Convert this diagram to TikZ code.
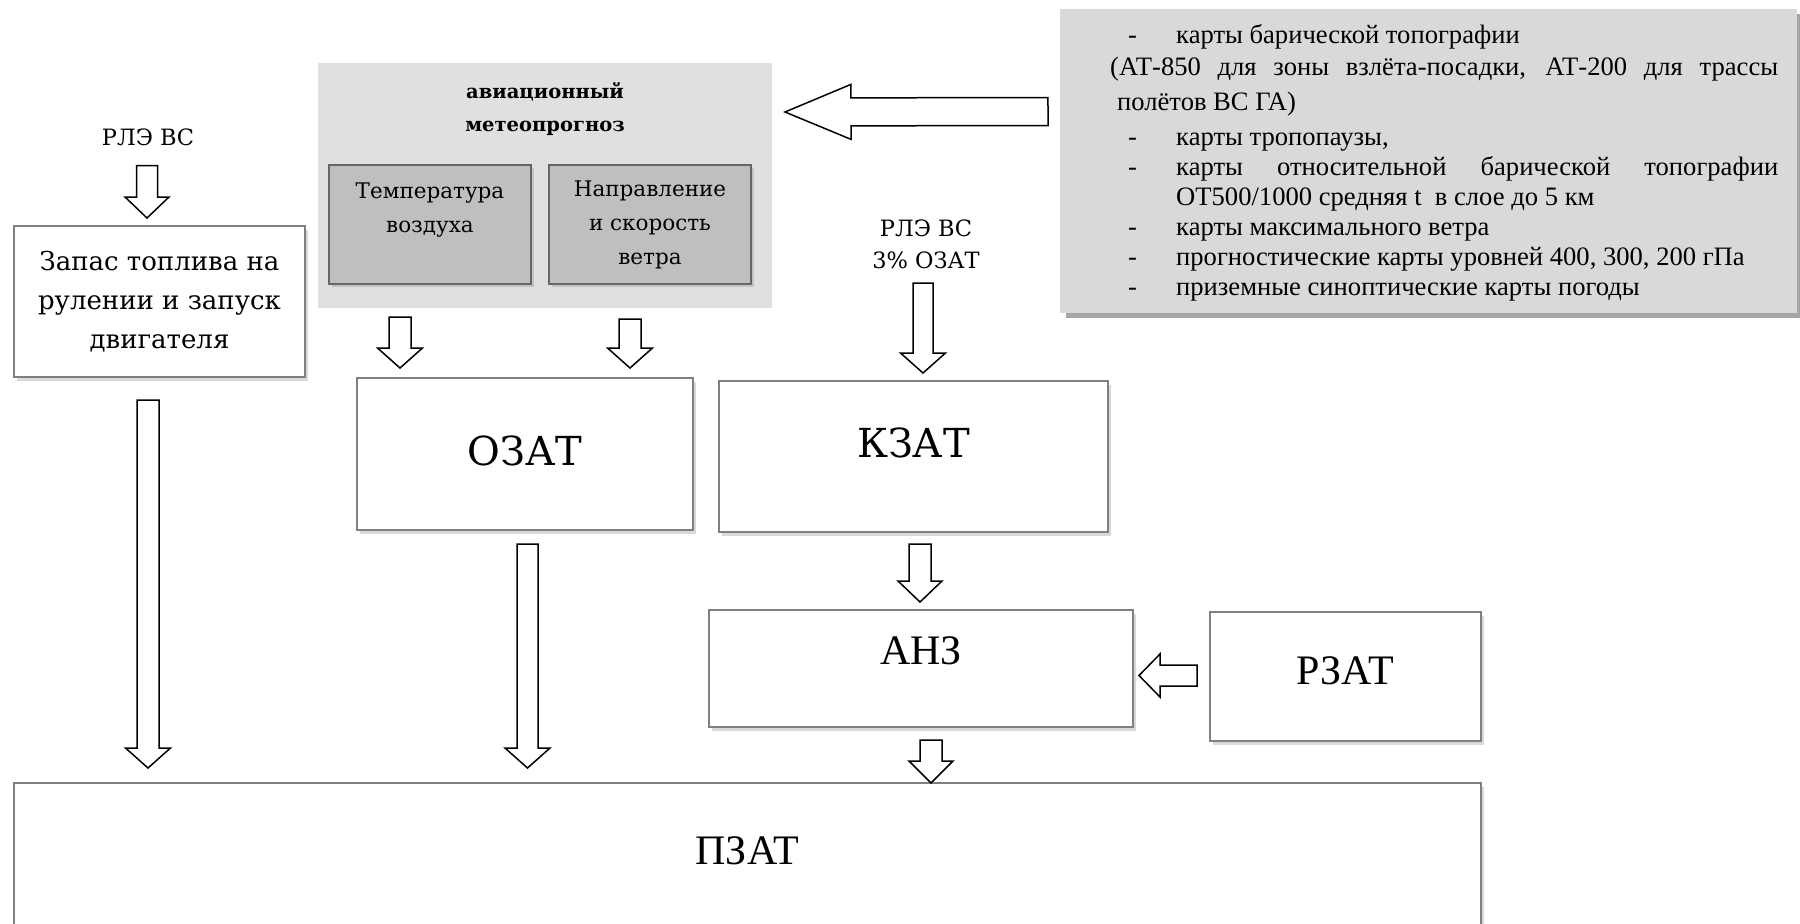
\documentclass[tikz,border=0pt]{standalone}
\usepackage{fontspec}
\setmainfont{Liberation Serif}
\newfontfamily\camb{DejaVu Serif}
\usetikzlibrary{calc,shadows}
\begin{document}
\begin{tikzpicture}[x=1pt,y=-1pt,
  box/.style={draw=black!50, line width=1.4pt, fill=white, rectangle, inner sep=0pt, outer sep=0pt,
    drop shadow={shadow xshift=3pt, shadow yshift=-4pt, opacity=0.3}},
  inbox/.style={draw=black!60, line width=1.4pt, fill=black!25, rectangle, inner sep=0pt, outer sep=0pt,
    align=center, font=\camb\fontsize{21.5}{34}\selectfont,
    drop shadow={shadow xshift=3pt, shadow yshift=-3pt, opacity=0.3},
    minimum width=202pt, minimum height=119pt},
  bigcamb/.style={font=\camb\fontsize{40}{48}\selectfont, text height=29pt},
  bigtimes/.style={font=\fontsize{42}{50}\selectfont, text height=28pt},
  lbl/.style={font=\camb\fontsize{22.5}{32}\selectfont, inner sep=0pt, align=center},
  info/.style={font=\fontsize{26.6}{30}\selectfont, inner sep=0pt, anchor=base west},
  barrow/.style n args={3}{draw=black, line width=1.5pt, fill=white, line join=miter,
    to path={let \p1=(\tikztostart), \p2=(\tikztotarget),
      \n1={veclen(\x2-\x1,\y2-\y1)}, \n2={scalar(atan2(\y2-\y1,\x2-\x1))},
      \n3={scalar(\n2+90)}, \n4={\n1-#3pt} in
      ($(\p1)+(\n3:#1pt)$) -- ($(\p1)+(\n2:\n4)+(\n3:#1pt)$)
      -- ($(\p1)+(\n2:\n4)+(\n3:#2pt)$) -- (\p2)
      -- ($(\p1)+(\n2:\n4)+(\n3:-#2pt)$) -- ($(\p1)+(\n2:\n4)+(\n3:-#1pt)$)
      -- ($(\p1)+(\n3:-#1pt)$) -- cycle}}
]
\useasboundingbox (0,0) rectangle (1800,924);

% info box (top right)
\node[fill=black!15, minimum width=737pt, minimum height=304pt, inner sep=0pt, outer sep=0pt,
  drop shadow={fill=black!35, opacity=1, shadow xshift=6pt, shadow yshift=-5pt}] (info) at (1428.5,161) {};
\node[info] (i1) at (1128,43) {\makebox[48pt][l]{-}карты барической топографии};
\node[info] (i2) at (1110,75) {\makebox[668pt][s]{(АТ-850 для зоны взлёта-посадки, АТ-200 для трассы}};
\node[info] (i3) at (1117,110) {полётов ВС ГА)};
\node[info] (i4) at (1128,145) {\makebox[48pt][l]{-}карты тропопаузы,};
\node[info] (i5) at (1128,175) {\makebox[48pt][l]{-}\makebox[602pt][s]{карты относительной барической топографии}};
\node[info] (i6) at (1176,205) {ОТ500/1000 средняя t\ \ в слое до 5 км};
\node[info] (i7) at (1128,235) {\makebox[48pt][l]{-}карты максимального ветра};
\node[info] (i8) at (1128,265) {\makebox[48pt][l]{-}прогностические карты уровней 400, 300, 200 гПа};
\node[info] (i9) at (1128,295) {\makebox[48pt][l]{-}приземные синоптические карты погоды};

% meteo block
\node[fill=black!12, minimum width=454pt, minimum height=245pt, inner sep=0pt, outer sep=0pt] (meteo) at (545,185.5) {};
\node[font=\camb\bfseries\fontsize{19.5}{33}\selectfont, align=center, inner sep=0pt] (mtitle) at (545,109) {авиационный\\метеопрогноз};
\node[inbox] (temp) at (430,224.5) {Температура\\воздуха\\\mbox{}};
\node[inbox] (wind) at (650,224.5) {Направление\\и скорость\\ветра};

% left column
\node[lbl] (rle1) at (148,137) {РЛЭ ВС};
\node[box, minimum width=291pt, minimum height=151pt, align=center,
  font=\camb\fontsize{26}{39}\selectfont] (zapas) at (159.5,301.5) {Запас топлива на\\рулении и запуск\\двигателя};

% main boxes
\node[box, bigcamb, text depth=6pt, minimum width=336pt, minimum height=152pt] (ozat) at (525,454) {ОЗАТ};
\node[lbl] (rle2) at (926,244.5) {РЛЭ ВС\\3\% ОЗАТ};
\node[box, bigcamb, text depth=27pt, minimum width=389pt, minimum height=151pt] (kzat) at (913.5,456.5) {КЗАТ};
\node[box, bigtimes, text depth=37pt, minimum width=424pt, minimum height=117pt] (anz) at (921,668.5) {АНЗ};
\node[box, bigtimes, text depth=13pt, minimum width=271pt, minimum height=129pt] (rzat) at (1345.5,676.5) {РЗАТ};
\node[box, bigtimes, text depth=13pt, minimum width=1467pt, minimum height=147pt] (pzat) at (747.5,856.5) {ПЗАТ};

% block arrows
\draw[barrow={14}{27.5}{66}] ($(info.west)+(-12,-49.5)$) to ($(meteo.east)+(13,-73.5)$);
\draw[barrow={10.5}{22}{21}] ($(rle1.south)+(-1,20)$) to ($(zapas.north)+(-12.5,-8)$);
\draw[barrow={11}{22.5}{20}] ($(zapas.south)+(-11.5,23)$) to ($(pzat.north)+(-599.5,-15)$);
\draw[barrow={11}{22.5}{20}] ($(temp.south)+(-30,33)$) to ($(ozat.north)+(-125,-10)$);
\draw[barrow={11}{22.5}{20}] ($(wind.south)+(-20,35)$) to ($(ozat.north)+(105,-10)$);
\draw[barrow={10.5}{22.5}{20}] ($(ozat.south)+(2.5,14)$) to ($(pzat.north)+(-220,-15)$);
\draw[barrow={10}{22.5}{20}] ($(rle2.south)+(-3,14)$) to ($(kzat.north)+(9.5,-8)$);
\draw[barrow={11}{22}{21}] ($(kzat.south)+(6.5,12)$) to ($(anz.north)+(-1,-8)$);
\draw[barrow={11}{22}{22}] ($(anz.south)+(10,13)$) to ($(pzat.north)+(183.5,0)$);
\draw[barrow={10.5}{21.5}{21}] ($(rzat.west)+(-13,-1)$) to ($(anz.east)+(6,7)$);
\end{tikzpicture}
\end{document}
